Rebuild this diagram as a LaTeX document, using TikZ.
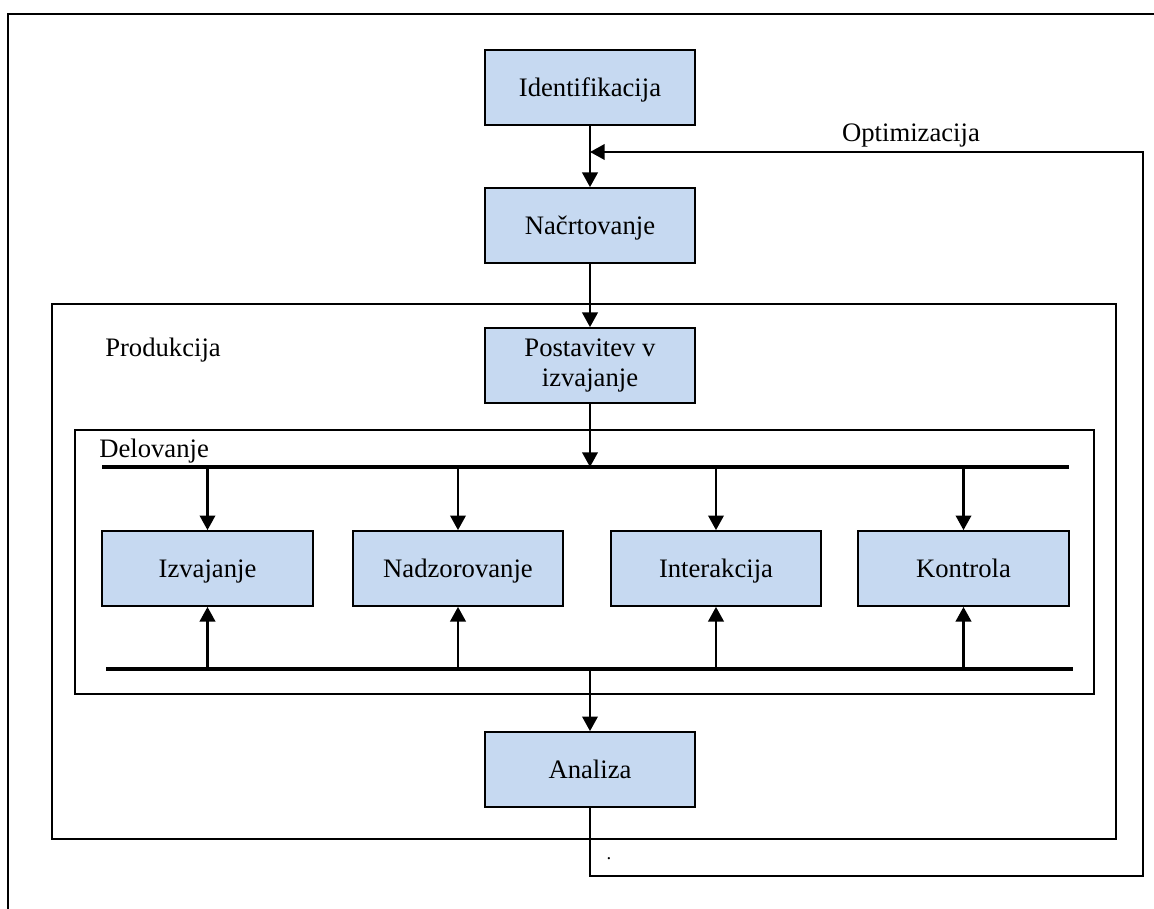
\documentclass[tikz,border=0pt]{standalone}
\usepackage{fontspec}
\setmainfont{Liberation Serif}
\usetikzlibrary{arrows.meta}
\definecolor{boxfill}{HTML}{C6D9F1}
\begin{document}
\begin{tikzpicture}[x=0.75pt,y=-0.75pt,
  stepbox/.style={draw=black, line width=1.5pt, fill=boxfill, minimum width=158pt, minimum height=56pt, inner sep=0pt, align=center, font=\fontsize{20}{23}\selectfont},
  onebox/.style={stepbox, text height=15pt, text depth=2.2pt},
  lbl/.style={inner sep=0pt, font=\fontsize{20}{23}\selectfont},
  frame/.style={draw=black, line width=1.5pt},
  bus/.style={draw=black, line width=3.2pt},
  arr/.style={draw=black, line width=2pt, -{Triangle[length=11pt,width=11.5pt]}},
  conn/.style={draw=black, line width=2pt}]
\useasboundingbox (0,0) rectangle (1154,909);
% outer frame (top and left visible)
\draw[line width=1.8pt] (8,909) -- (8,14) -- (1154,14);
% Produkcija and Delovanje frames
\draw[frame] (52,304) rectangle (1116,839);
\draw[frame] (75,430) rectangle (1094,694);
% nodes
\node[onebox] (iden) at (590,87.5) {Identifikacija};
\node[onebox] (nac) at (590,225.5) {Načrtovanje};
\node[stepbox] (post) at (590,365.5) {Postavitev v\\izvajanje};
\node[onebox] (izv) at (207.5,568.5) {Izvajanje};
\node[onebox] (nad) at (458,568.5) {Nadzorovanje};
\node[onebox] (int) at (716,568.5) {Interakcija};
\node[onebox] (kon) at (963.5,568.5) {Kontrola};
\node[onebox] (ana) at (590,769.5) {Analiza};
% labels
\node[lbl, anchor=base] (opt) at (911,142) {Optimizacija};
\node[lbl, anchor=base west] (prod) at (105,357) {Produkcija};
\node[lbl, anchor=base west] (del) at (99,458) {Delovanje};
\node[inner sep=0pt, font=\fontsize{14}{16}\selectfont] (dot) at (609,859) {.};
% buses
\coordinate (t1) at (102,467);
\coordinate (t2) at (1069,467);
\coordinate (b1) at (106,669);
\coordinate (b2) at (1073,669);
\draw[bus] (t1) -- (t2);
\draw[bus] (b1) -- (b2);
% main flow
\draw[arr] (iden.south) -- (nac.north);
\draw[arr] (nac.south) -- (post.north);
\draw[arr] (post.south) -- (post.south |- t1);
\draw[arr] (ana.north |- b1) -- (ana.north);
% distribution arrows
\foreach \n in {izv,nad,int,kon}{
  \draw[arr] (\n.north |- t1) -- (\n.north);
  \draw[arr] (\n.south |- b1) -- (\n.south);
}
% feedback
\coordinate (fb1) at (1143,876);
\coordinate (fb2) at (1143,152);
\draw[arr] (ana.south) |- (fb1) -- (fb2) -- (fb2 -| iden.south);
\end{tikzpicture}
\end{document}
